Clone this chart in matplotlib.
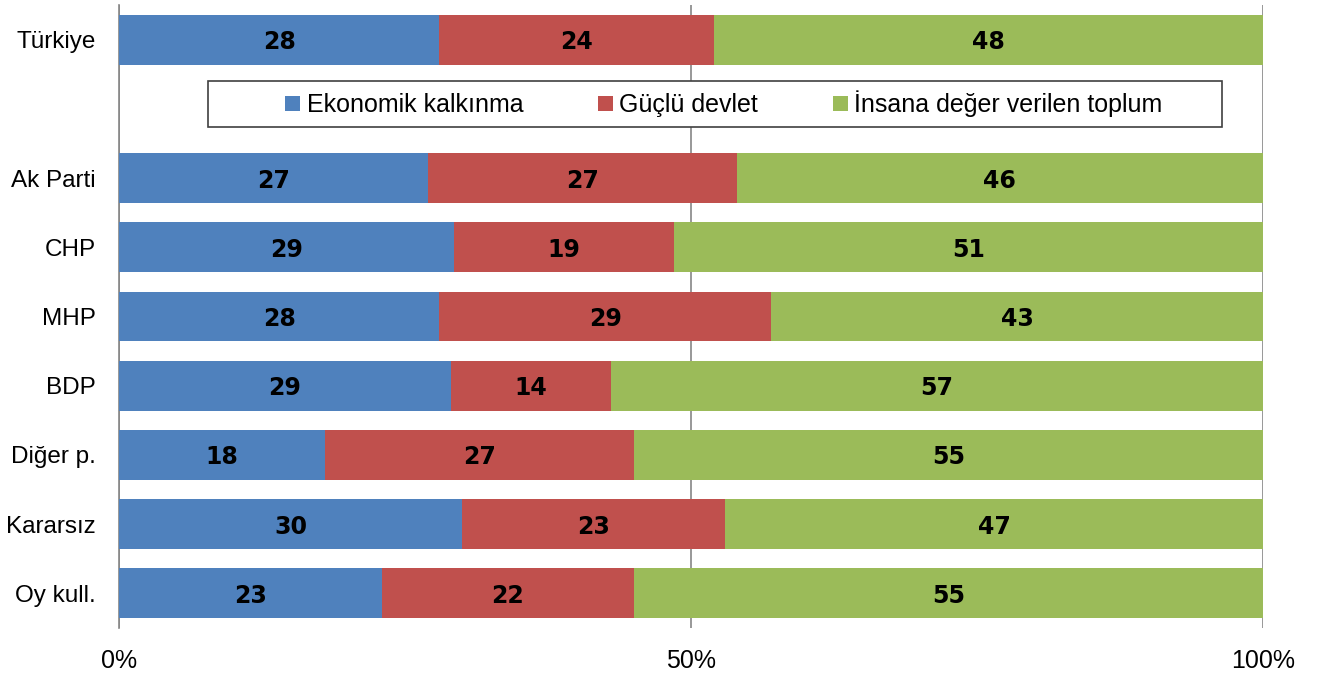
import matplotlib
matplotlib.use("Agg")
import matplotlib.pyplot as plt
import numpy as np
from matplotlib.patches import Rectangle

CATEGORIES = ["Türkiye", "", "Ak Parti", "CHP", "MHP", "BDP", "Diğer p.", "Kararsız", "Oy kull."]
SERIES = ["Ekonomik kalkınma", "Güçlü devlet", "İnsana değer verilen toplum"]
EKONOMIK = [28, None, 27, 29, 28, 29, 18, 30, 23]
GUCLU = [24, None, 27, 19, 29, 14, 27, 23, 22]
INSANA = [48, None, 46, 51, 43, 57, 55, 47, 55]
X_TICKS = [0, 50, 100]
X_TICK_LABELS = ["0%", "50%", "100%"]
COLORS = ["#4F81BD", "#C0504D", "#9BBB59"]

plt.rcParams["font.family"] = ["Liberation Sans", "DejaVu Sans"]

fig = plt.figure(figsize=(13.17, 6.75), dpi=100)
ax = fig.add_axes([119 / 1317, 1 - 628 / 675, 1144 / 1317, 623 / 675])

rows = [i for i, v in enumerate(EKONOMIK) if v is not None]
raw = np.array([[EKONOMIK[i], GUCLU[i], INSANA[i]] for i in rows], dtype=float)
shares = raw / raw.sum(axis=1, keepdims=True) * 100

left = np.zeros(len(rows))
for k, (name, color) in enumerate(zip(SERIES, COLORS)):
    bars = ax.barh(rows, shares[:, k], left=left, height=0.72, color=color,
                   label=name, zorder=3)
    for bar, val in zip(bars, raw[:, k]):
        ax.text(bar.get_x() + bar.get_width() / 2, bar.get_y() + bar.get_height() / 2,
                f"{val:.0f}", ha="center", va="center_baseline", fontsize=17,
                fontweight="bold", family="DejaVu Sans", color="black", zorder=4)
    left += shares[:, k]

ax.set_xlim(0, 100)
ax.set_ylim(len(CATEGORIES) - 0.5, -0.5)
ax.set_yticks(range(len(CATEGORIES)))
ax.set_yticklabels(CATEGORIES, fontsize=17.5)
ax.set_xticks(X_TICKS)
ax.set_xticklabels(X_TICK_LABELS, fontsize=18)
ax.tick_params(axis="y", length=0, pad=17)
ax.tick_params(axis="x", length=0, pad=15)
ax.grid(axis="x", color="#868686", linewidth=1.2, zorder=1)
for side in ["top", "right", "bottom"]:
    ax.spines[side].set_visible(False)
ax.spines["left"].set_color("#868686")
ax.spines["left"].set_linewidth(1.2)

# legend sits in the empty second row, inside a wide frame
frame = Rectangle(((208 - 119) / 1144, (628 - 127) / 623), (1222 - 208) / 1144, 46 / 623,
                  transform=ax.transAxes, facecolor="white", edgecolor="#404040",
                  linewidth=1.2, zorder=5)
ax.add_patch(frame)
leg = ax.legend(loc="center", bbox_to_anchor=((724 - 119) / 1144, (628 - 104) / 623),
                ncol=3, frameon=False, fontsize=18, handlelength=0.6, handleheight=0.6,
                handletextpad=0.25, columnspacing=3.0)
leg.set_zorder(6)

fig.savefig("out.png", dpi=100)
